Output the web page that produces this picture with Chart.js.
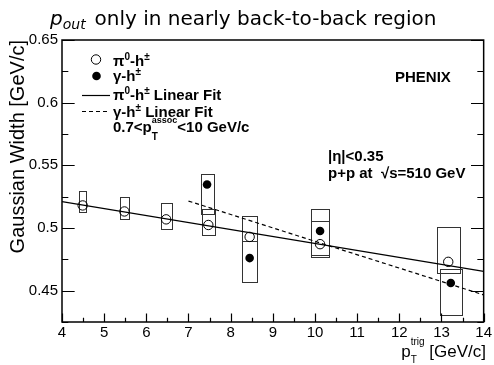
<!DOCTYPE html>
<html>
<head>
<meta charset="utf-8">
<script src="https://cdn.jsdelivr.net/npm/chart.js@4.4.1/dist/chart.umd.min.js"></script>
<style>
  body { margin: 0; background: #fff; }
  #wrap { width: 494px; height: 365px; }
</style>
</head>
<body>
<div id="wrap"><canvas id="chart" width="494" height="365"></canvas></div>
<script>
// Gaussian width vs trigger pT, pi0-h and gamma-h
var pi0X = [4.49, 5.48, 6.47, 7.47, 8.45, 10.12, 13.16];
var pi0Y = [0.518, 0.5132, 0.5069, 0.5024, 0.4929, 0.4871, 0.473];
var pi0SysLo = [0.513, 0.507, 0.4995, 0.4942, 0.4895, 0.4768, 0.464];
var pi0SysHi = [0.5294, 0.5246, 0.5202, 0.5148, 0.5095, 0.5056, 0.5011];
var pi0BoxHalf = [0.09, 0.115, 0.13, 0.155, 0.17, 0.205, 0.27];

var gamX = [7.44, 8.45, 10.12, 13.22];
var gamY = [0.5347, 0.476, 0.4976, 0.4561];
var gamSysLo = [0.5114, 0.457, 0.4783, 0.4307];
var gamSysHi = [0.5434, 0.4895, 0.5154, 0.4672];
var gamBoxHalf = [0.155, 0.17, 0.205, 0.265];

// linear fits (end points)
var pi0FitX = [4, 14];
var pi0FitY = [0.521, 0.4654];
var gamFitX = [7, 14];
var gamFitY = [0.5215, 0.4466];

var xTicks = [4, 5, 6, 7, 8, 9, 10, 11, 12, 13, 14];
var xTickLabels = ["4", "5", "6", "7", "8", "9", "10", "11", "12", "13", "14"];
var xMinor = [4.5, 5.5, 6.5, 7.5, 8.5, 9.5, 10.5, 11.5, 12.5, 13.5];
var yTicks = [0.45, 0.5, 0.55, 0.6, 0.65];
var yTickLabels = ["0.45", "0.5", "0.55", "0.6", "0.65"];
var yMinor = [0.425, 0.475, 0.525, 0.575, 0.625];

function pts(xs, ys) {
    return xs.map(function(x, i) { return {x: x, y: ys[i]}; });
}

var SANS = "'Liberation Sans', Arial, sans-serif";
var DEJA = "'DejaVu Sans', sans-serif";

// draw a list of text runs one after another; stack:true puts a run over the previous one
function drawRuns(ctx, runs, x, y, align) {
    var total = 0, prevStart = 0, prevW = 0, cur = 0;
    var layout = runs.map(function(r) {
        ctx.font = r.font;
        var w = ctx.measureText(r.text).width;
        var start = r.stack ? prevStart : cur;
        if (r.stack) {
            cur = prevStart + Math.max(prevW, w);
        } else {
            cur = start + w;
        }
        prevStart = start; prevW = w;
        total = Math.max(total, cur);
        return {r: r, start: start};
    });
    var x0 = align === "right" ? x - total : x;
    ctx.textBaseline = "alphabetic";
    ctx.textAlign = "left";
    layout.forEach(function(l) {
        ctx.font = l.r.font;
        ctx.fillText(l.r.text, x0 + l.start, y + (l.r.dy || 0));
    });
}

var boxPlugin = {
    id: "sysBoxes",
    beforeDatasetsDraw: function(chart) {
        var ctx = chart.ctx, xs = chart.scales.x, ys = chart.scales.y;
        ctx.save();
        ctx.strokeStyle = "#333";
        ctx.lineWidth = 1;
        function boxes(cx, lo, hi, half) {
            cx.forEach(function(c, i) {
                var l = Math.round(xs.getPixelForValue(c - half[i])) + 0.5;
                var r = Math.round(xs.getPixelForValue(c + half[i])) + 0.5;
                var t = Math.round(ys.getPixelForValue(hi[i])) + 0.5;
                var b = Math.round(ys.getPixelForValue(lo[i])) + 0.5;
                ctx.strokeRect(l, t, r - l, b - t);
            });
        }
        boxes(pi0X, pi0SysLo, pi0SysHi, pi0BoxHalf);
        boxes(gamX, gamSysLo, gamSysHi, gamBoxHalf);
        ctx.restore();
    }
};

var framePlugin = {
    id: "frame",
    afterDraw: function(chart) {
        var ctx = chart.ctx, a = chart.chartArea;
        var xs = chart.scales.x, ys = chart.scales.y;
        ctx.save();
        ctx.strokeStyle = "#000";
        ctx.fillStyle = "#000";
        ctx.lineWidth = 1.5;
        ctx.strokeRect(a.left, a.top, a.right - a.left, a.bottom - a.top);

        // inward ticks
        var yLen = 0.03 * (a.right - a.left), xLen = 0.03 * (a.bottom - a.top);
        ctx.lineWidth = 1.2;
        ctx.beginPath();
        yTicks.concat(yMinor).forEach(function(v, i) {
            var len = i < yTicks.length ? yLen : yLen / 2;
            var py = Math.round(ys.getPixelForValue(v)) + 0.5;
            ctx.moveTo(a.left, py); ctx.lineTo(a.left + len, py);
            ctx.moveTo(a.right, py); ctx.lineTo(a.right - len, py);
        });
        xTicks.concat(xMinor).forEach(function(v, i) {
            var len = i < xTicks.length ? xLen : xLen / 2;
            var px = Math.round(xs.getPixelForValue(v)) + 0.5;
            ctx.moveTo(px, a.bottom); ctx.lineTo(px, a.bottom - len);
        });
        ctx.stroke();

        // title
        drawRuns(ctx, [
            {text: "p", font: "italic 20px " + DEJA},
            {text: "out", font: "italic 14px " + DEJA, dy: 4},
            {text: "  ", font: "14px " + DEJA},
            {text: "only in nearly back-to-back region", font: "20px " + DEJA}
        ], 50, 25);

        // axis titles
        drawRuns(ctx, [
            {text: "p", font: "17px " + SANS},
            {text: "T", font: "10px " + SANS, dy: 6},
            {text: "trig", font: "10px " + SANS, dy: -12, stack: true},
            {text: " [GeV/c]", font: "17px " + SANS}
        ], 486, 357, "right");

        ctx.save();
        ctx.translate(24, 40);
        ctx.rotate(-Math.PI / 2);
        ctx.font = "20px " + SANS;
        ctx.textAlign = "right";
        ctx.textBaseline = "alphabetic";
        ctx.fillText("Gaussian Width [GeV/c]", 0, 0);
        ctx.restore();

        // legend
        var B = "bold 15px " + SANS, S = "bold 10px " + SANS, SS = "bold 9px " + SANS;
        ctx.lineWidth = 1;
        ctx.beginPath();
        ctx.arc(96, 59.5, 4.7, 0, 2 * Math.PI);
        ctx.stroke();
        ctx.beginPath();
        ctx.arc(96.5, 76, 4.3, 0, 2 * Math.PI);
        ctx.fill();
        ctx.lineWidth = 1.2;
        ctx.beginPath();
        ctx.moveTo(82, 95.5); ctx.lineTo(110, 95.5);
        ctx.stroke();
        ctx.setLineDash([4, 3]);
        ctx.beginPath();
        ctx.moveTo(82, 111.5); ctx.lineTo(110, 111.5);
        ctx.stroke();
        ctx.setLineDash([]);

        drawRuns(ctx, [{text: "\u03c0", font: B}, {text: "0", font: S, dy: -6},
            {text: "-h", font: B}, {text: "\u00b1", font: S, dy: -6}], 113, 65.5);
        drawRuns(ctx, [{text: "\u03b3-h", font: B}, {text: "\u00b1", font: S, dy: -6}], 113, 81);
        drawRuns(ctx, [{text: "\u03c0", font: B}, {text: "0", font: S, dy: -6},
            {text: "-h", font: B}, {text: "\u00b1", font: S, dy: -6},
            {text: " Linear Fit", font: B}], 113, 100);
        drawRuns(ctx, [{text: "\u03b3-h", font: B}, {text: "\u00b1", font: S, dy: -6},
            {text: " Linear Fit", font: B}], 113, 116.5);
        drawRuns(ctx, [{text: "0.7<p", font: B}, {text: "T", font: S, dy: 8},
            {text: "assoc", font: SS, dy: -9, stack: true},
            {text: "<10 GeV/c", font: B}], 113, 132);

        // labels on the right
        drawRuns(ctx, [{text: "PHENIX", font: B}], 395, 81.5);
        drawRuns(ctx, [{text: "|\u03b7|<0.35", font: B}], 328, 161);
        drawRuns(ctx, [{text: "p+p at  \u221as=510 GeV", font: B}], 328, 177.5);
        ctx.restore();
    }
};

var ctx = document.getElementById("chart").getContext("2d");
var chart = new Chart(ctx, {
    type: "scatter",
    data: {
        datasets: [
            {
                label: "pi0 fit",
                type: "line",
                data: pts(pi0FitX, pi0FitY),
                borderColor: "#000",
                borderWidth: 1.2,
                pointRadius: 0
            },
            {
                label: "gamma fit",
                type: "line",
                data: pts(gamFitX, gamFitY),
                borderColor: "#000",
                borderWidth: 1.2,
                borderDash: [4, 3],
                pointRadius: 0
            },
            {
                label: "pi0-h",
                data: pts(pi0X, pi0Y),
                pointStyle: "circle",
                pointRadius: 4.7,
                pointBorderWidth: 1,
                borderColor: "#000",
                backgroundColor: "rgba(0,0,0,0)"
            },
            {
                label: "gamma-h",
                data: pts(gamX, gamY),
                pointStyle: "circle",
                pointRadius: 4.3,
                pointBorderWidth: 0,
                borderColor: "#000",
                backgroundColor: "#000"
            }
        ]
    },
    options: {
        responsive: false,
        animation: false,
        devicePixelRatio: 1,
        layout: { padding: { top: 40, right: 9, left: 0, bottom: 0 } },
        plugins: {
            legend: { display: false },
            tooltip: { enabled: false }
        },
        scales: {
            x: {
                type: "linear",
                min: 4,
                max: 14,
                afterBuildTicks: function(s) { s.ticks = xTicks.map(function(v) { return {value: v}; }); },
                afterFit: function(s) { s.height = 43; },
                grid: { display: false, drawTicks: false },
                border: { display: false },
                ticks: {
                    color: "#000",
                    padding: 2,
                    maxRotation: 0,
                    autoSkip: false,
                    font: { family: "'Liberation Sans', Arial, sans-serif", size: 15 },
                    callback: function(v) { return xTickLabels[xTicks.indexOf(v)]; }
                }
            },
            y: {
                type: "linear",
                min: 0.425,
                max: 0.65,
                afterBuildTicks: function(s) { s.ticks = yTicks.map(function(v) { return {value: v}; }); },
                afterFit: function(s) { s.width = 62; },
                grid: { display: false, drawTicks: false },
                border: { display: false },
                ticks: {
                    color: "#000",
                    padding: 4,
                    autoSkip: false,
                    font: { family: "'Liberation Sans', Arial, sans-serif", size: 15 },
                    callback: function(v) { return yTickLabels[yTicks.indexOf(v)]; }
                }
            }
        }
    },
    plugins: [boxPlugin, framePlugin]
});
</script>
</body>
</html>
